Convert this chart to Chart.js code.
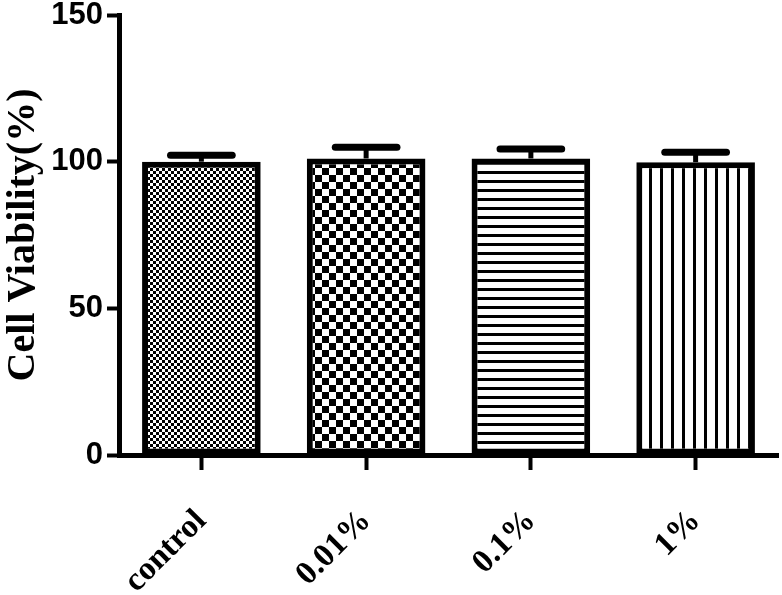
<!DOCTYPE html>
<html>
<head>
<meta charset="utf-8">
<script src="https://cdn.jsdelivr.net/npm/chart.js@4.4.0/dist/chart.umd.min.js"></script>
<style>
  html, body { margin: 0; padding: 0; background: #fff; }
  #wrap { width: 782px; height: 595px; position: relative; }
</style>
</head>
<body>
<div id="wrap"><canvas id="viabilityChart"></canvas></div>
<script>
// Data
const groups = ['control', '0.01%', '0.1%', '1%'];
const viability = [100.0, 101.1, 101.1, 99.8];
const sem = [2.2, 3.8, 3.2, 3.4];
const yTicks = [0, 50, 100, 150];

// Fill patterns for each bar (same look as the printed figure)
function makePattern(w, h, draw) {
    const c = document.createElement('canvas');
    c.width = w;
    c.height = h;
    const g = c.getContext('2d');
    g.fillStyle = '#fff';
    g.fillRect(0, 0, w, h);
    g.fillStyle = '#000';
    draw(g);
    return g.createPattern(c, 'repeat');
}

const ctx = document.getElementById('viabilityChart').getContext('2d');

const fills = [
    makePattern(6, 6, g => { g.fillRect(0, 0, 3, 3); g.fillRect(3, 3, 3, 3); }),     // fine checker
    makePattern(14, 14, g => { g.fillRect(0, 0, 7, 7); g.fillRect(7, 7, 7, 7); }),   // coarse checker
    makePattern(9, 9, g => { g.fillRect(0, 0, 9, 3); }),                             // horizontal lines
    makePattern(11, 11, g => { g.fillRect(0, 0, 3, 11); })                           // vertical lines
];

// Upper error bars (mean + SEM)
const errorBars = {
    id: 'errorBars',
    afterDatasetsDraw(chart) {
        const meta = chart.getDatasetMeta(0);
        const yScale = chart.scales.y;
        const c = chart.ctx;
        c.save();
        c.strokeStyle = '#000';
        meta.data.forEach((bar, i) => {
            const yTop = yScale.getPixelForValue(viability[i] + sem[i]);
            const yMean = yScale.getPixelForValue(viability[i]);
            const half = bar.width * 0.26;
            c.lineCap = 'butt';
            c.lineWidth = 5;
            c.beginPath();
            c.moveTo(bar.x, yMean);
            c.lineTo(bar.x, yTop);
            c.stroke();
            c.lineCap = 'round';
            c.lineWidth = 7;
            c.beginPath();
            c.moveTo(bar.x - half, yTop);
            c.lineTo(bar.x + half, yTop);
            c.stroke();
        });
        c.restore();
    }
};

Chart.defaults.color = '#000';

new Chart(ctx, {
    type: 'bar',
    data: {
        labels: groups,
        datasets: [{
            data: viability,
            backgroundColor: fills,
            borderColor: '#000',
            borderWidth: 6,
            borderSkipped: false,
            barPercentage: 0.72,
            categoryPercentage: 1.0
        }]
    },
    options: {
        responsive: true,
        maintainAspectRatio: false,
        animation: false,
        layout: { padding: { top: 15, right: 4, left: 0, bottom: 0 } },
        plugins: {
            legend: { display: false },
            tooltip: { enabled: false }
        },
        scales: {
            x: {
                grid: {
                    offset: false,
                    drawOnChartArea: false,
                    drawTicks: true,
                    tickLength: 15,
                    tickWidth: 4,
                    color: '#000'
                },
                border: { display: true, color: '#000', width: 5 },
                ticks: {
                    minRotation: 45,
                    maxRotation: 45,
                    padding: 32,
                    color: '#000',
                    font: { family: "'Liberation Serif', 'Times New Roman', serif", weight: 'bold', size: 33 }
                },
                afterFit(scale) { scale.height = 140; }
            },
            y: {
                min: 0,
                max: 150,
                afterBuildTicks(scale) { scale.ticks = yTicks.map(v => ({ value: v })); },
                grid: {
                    drawOnChartArea: false,
                    drawTicks: true,
                    tickLength: 12,
                    tickWidth: 4,
                    color: '#000'
                },
                border: { display: true, color: '#000', width: 5 },
                ticks: {
                    padding: 4,
                    color: '#000',
                    font: { family: "'Liberation Sans', Arial, sans-serif", weight: 'bold', size: 31 }
                },
                title: {
                    display: true,
                    text: 'Cell Viability(%)',
                    color: '#000',
                    padding: { top: 0, bottom: 2 },
                    font: { family: "'Liberation Serif', 'Times New Roman', serif", weight: 'bold', size: 40 }
                },
                afterFit(scale) {
                    scale.width = 119;
                    scale.paddingTop = 0;
                }
            }
        }
    },
    plugins: [errorBars]
});
</script>
</body>
</html>
